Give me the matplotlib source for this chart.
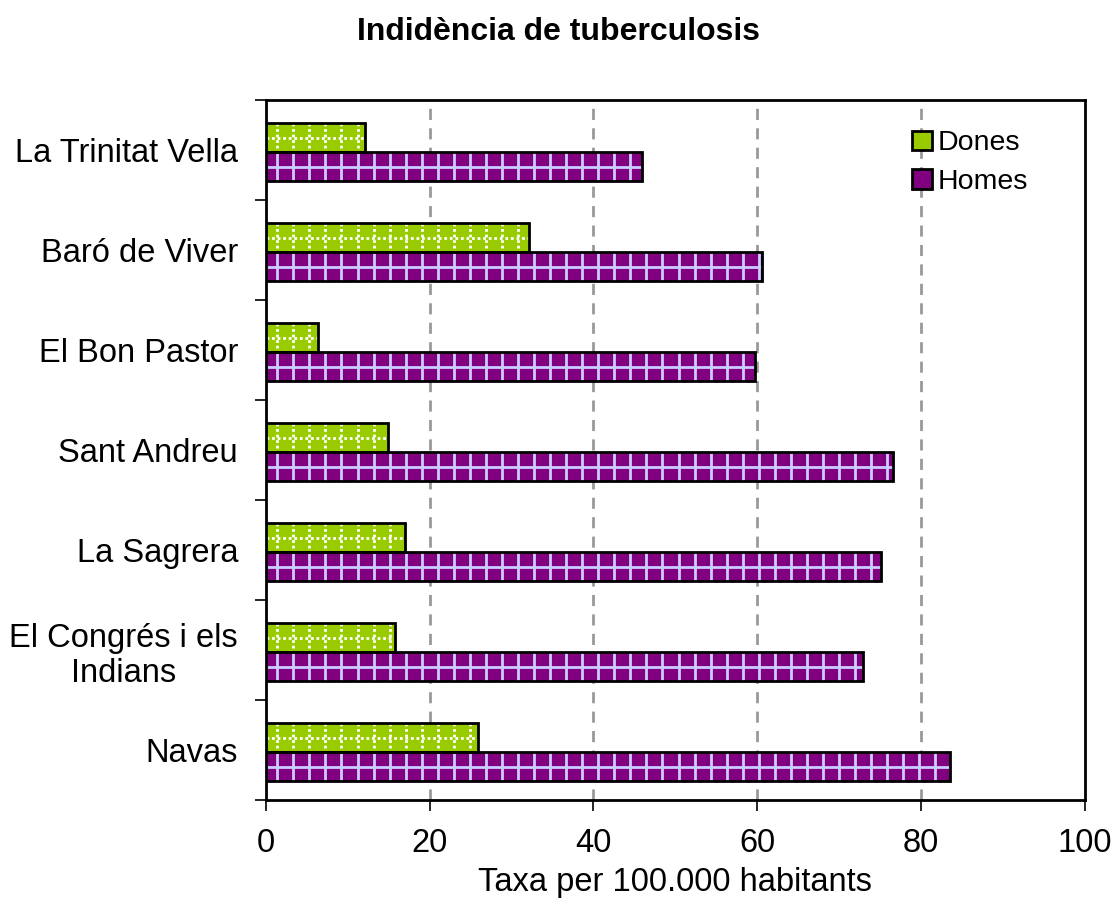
import matplotlib.pyplot as plt
import matplotlib.patches as mpatches
from matplotlib.collections import LineCollection
import numpy as np

plt.rcParams['font.family'] = ['Liberation Sans', 'DejaVu Sans']

barris = ["La Trinitat Vella", "Baró de Viver", "El Bon Pastor", "Sant Andreu",
          "La Sagrera", "El Congrés i els\nIndians", "Navas"]
dones = [12.1, 32.1, 6.4, 14.9, 17.0, 15.8, 25.9]
homes = [45.9, 60.6, 59.8, 76.6, 75.1, 72.9, 83.5]

col_dones = "#99CC00"
col_homes = "#800080"
hatch_dones = "white"
hatch_homes = "#CCCCFF"

fig = plt.figure(figsize=(11.17, 9.18), dpi=100)
ax = fig.add_axes([0.238, 0.1285, 0.733, 0.7625])

y = np.arange(len(barris))
h = 0.285


def grid_fill(bars, color, ls):
    # draw the grid pattern inside each bar (clipped to the bar)
    for b in bars:
        x0, y0, w, hh = b.get_x(), b.get_y(), b.get_width(), b.get_height()
        segs = [[(xx, y0), (xx, y0 + hh)] for xx in np.arange(1.4, w, 1.96)]
        segs.append([(x0, y0 + hh / 2), (x0 + w, y0 + hh / 2)])
        lc = LineCollection(segs, colors=color, linewidths=2, linestyles=ls, zorder=3.5)
        ax.add_collection(lc)
        lc.set_clip_path(b)


bd = ax.barh(y - 0.125, dones, height=h, color=col_dones, linewidth=0, zorder=3)
bh = ax.barh(y + 0.165, homes, height=h, color=col_homes, linewidth=0, zorder=3)
grid_fill(bd, hatch_dones, (0, (1, 1)))
grid_fill(bh, hatch_homes, "solid")
ax.barh(y - 0.125, dones, height=h, fill=False, edgecolor="black", linewidth=2, zorder=4)
ax.barh(y + 0.165, homes, height=h, fill=False, edgecolor="black", linewidth=2, zorder=4)

ax.set_xlim(0, 100)
ax.set_ylim(len(barris) - 0.5, -0.5)
ax.set_xticks(np.arange(0, 101, 20))
ax.set_yticks(y)
ax.set_yticklabels(barris, multialignment='center')
ax.set_yticks(np.arange(len(barris) + 1) - 0.5, minor=True)
ax.tick_params(axis='y', which='major', length=0, pad=20, labelsize=23.5)
ax.tick_params(axis='y', which='minor', length=8, width=1.2)
ax.tick_params(axis='x', length=8, width=1.2, labelsize=23.5, pad=12)

for gx in [20, 40, 60, 80]:
    ax.axvline(gx, color="#999999", linestyle=(0, (4, 3)), linewidth=2, zorder=1)

for s in ax.spines.values():
    s.set_linewidth(2)

ax.set_xlabel("Taxa per 100.000 habitants", fontsize=23.5, labelpad=6)
fig.suptitle("Indidència de tuberculosis", fontsize=23, fontweight='bold', y=0.982)

hd = mpatches.Patch(facecolor=col_dones, edgecolor="black", linewidth=2)
hh = mpatches.Patch(facecolor=col_homes, edgecolor="black", linewidth=2)
leg = ax.legend([hd, hh], ["Dones", "Homes"], loc="upper right", frameon=False,
                fontsize=20.5, handlelength=0.7, handleheight=0.7, handletextpad=0.2,
                labelspacing=0.45, bbox_to_anchor=(0.955, 0.985), borderaxespad=0.3)

fig.savefig("out.png", dpi=100)
